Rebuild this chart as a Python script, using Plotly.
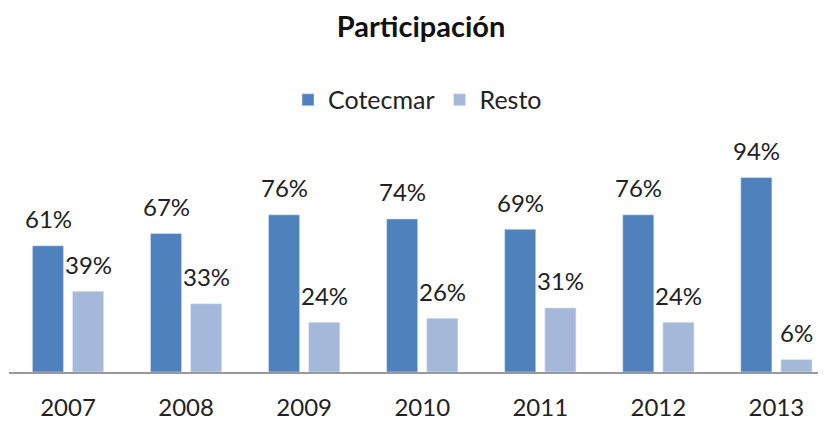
import plotly.graph_objects as go

years = ['2007', '2008', '2009', '2010', '2011', '2012', '2013']
cotecmar = [61, 67, 76, 74, 69, 76, 94]
resto = [39, 33, 24, 26, 31, 24, 6]

font = 'Lato, Open Sans, sans-serif'
c_dark = '#4F81BD'
c_light = '#A5B8DA'

fig = go.Figure()
fig.add_trace(go.Bar(x=years, y=cotecmar, name='Cotecmar', marker_color=c_dark))
fig.add_trace(go.Bar(x=years, y=resto, name='Resto', marker_color=c_light))

# data labels above each bar (x given as category index)
for i, (a, b) in enumerate(zip(cotecmar, resto)):
    fig.add_annotation(x=i, y=a, text='{}%'.format(a), showarrow=False,
                       xshift=-20, yshift=27, yanchor='middle',
                       font=dict(size=24, color='#222222', family=font))
    fig.add_annotation(x=i, y=b, text='{}%'.format(b), showarrow=False,
                       xshift=20, yshift=27, yanchor='middle',
                       font=dict(size=24, color='#222222', family=font))

fig.update_layout(
    width=826, height=422,
    margin=dict(l=1, r=8, t=122, b=58, autoexpand=False),
    paper_bgcolor='white', plot_bgcolor='white',
    font=dict(family=font, color='#222222'),
    title=dict(text='<b>Participación</b>', x=0.5, xanchor='center',
               y=0.955, yanchor='middle', font=dict(size=29, color='#111111')),
    barmode='group', bargap=0.32, bargroupgap=0.225,
    legend=dict(orientation='h', x=0.5, xanchor='center', y=1.124, yanchor='middle',
                font=dict(size=25), itemwidth=30),
    xaxis=dict(type='category', range=[-0.5, 6.42], showgrid=False, showline=True,
               linecolor='#999999', linewidth=1.5, ticks='', tickfont=dict(size=24),
               ticklabelstandoff=13, automargin=False, fixedrange=True),
    yaxis=dict(range=[0, 117], visible=False, fixedrange=True),
)

fig.write_html('out.html')
